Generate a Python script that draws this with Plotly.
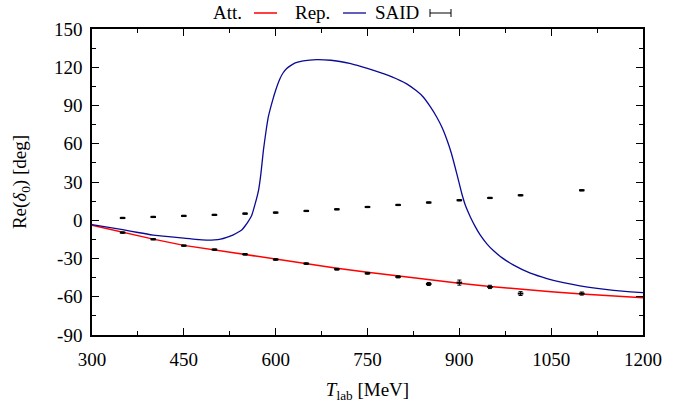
import plotly.graph_objects as go

# ---- data ----
said_up_x = [350, 400, 450, 500, 550, 600, 650, 700, 750, 800, 850, 900, 950, 1000, 1100]
said_up_y = [1.8, 2.6, 3.4, 4.2, 5.2, 6.0, 7.3, 8.6, 10.4, 12.0, 13.9, 15.7, 17.5, 19.6, 23.5]
said_up_err = [0.5] * 15

said_lo_x = [350, 400, 450, 500, 550, 600, 650, 700, 750, 800, 850, 900, 950, 1000, 1100]
said_lo_y = [-9.7, -14.9, -19.9, -23.0, -26.7, -30.8, -34.0, -38.4, -41.6, -44.4, -50.0, -48.9, -52.3, -57.5, -57.5]
said_lo_err = [0.5, 0.5, 0.5, 0.5, 0.6, 0.6, 0.6, 0.7, 0.7, 0.8, 1.2, 2.0, 1.3, 1.5, 1.2]

att_x = [300, 350, 400, 450, 500, 550, 600, 650, 700, 750, 800, 850, 900, 950, 1000, 1050, 1100, 1150, 1200]
att_y = [-4.0, -9.5, -14.8, -19.7, -23.3, -27.0, -30.7, -34.2, -37.6, -40.8, -43.8, -46.7, -49.4, -51.9, -54.1, -56.1, -57.9, -59.5, -60.8]

rep_x = [300, 325, 350, 375, 400, 425, 450, 475, 490, 500, 510, 520, 530, 540, 545, 550, 555, 561, 566,
         572, 576, 580, 584, 588, 595, 600, 607, 612, 618, 625, 632, 645, 667, 690, 705, 721, 740, 760,
         790, 814, 830, 841, 852, 863, 872, 880, 887, 893, 899, 904, 910, 918, 926, 934, 945, 956,
         970, 988, 1016, 1043, 1070, 1097, 1125, 1152, 1180, 1200]
rep_y = [-3.4, -5.4, -7.3, -9.6, -11.6, -12.9, -14.0, -15.2, -15.6, -15.4, -14.8, -13.4, -11.6, -9.0, -7.5,
         -4.5, -1.0, 4.0, 12.0, 23.5, 37.0, 55.0, 69.0, 81.0, 94.0, 102.0, 111.0, 115.5, 119.0, 121.5, 123.4,
         125.0, 126.0, 125.5, 124.5, 123.0, 120.5, 117.6, 112.5, 107.0, 101.5, 96.7, 89.5, 81.0, 72.5, 62.7,
         52.5, 41.8, 30.5, 21.0, 11.5, 2.6, -5.0, -11.5, -18.5, -24.0, -29.5, -35.0, -41.5, -45.7,
         -49.0, -51.5, -53.5, -55.0, -56.2, -56.8]

x_ticks = [300, 450, 600, 750, 900, 1050, 1200]
y_ticks = [-90, -60, -30, 0, 30, 60, 90, 120, 150]

RED = "#ff0000"
BLUE = "#0a0a96"
FONT = "Liberation Serif"

fig = go.Figure()
fig.add_trace(go.Scatter(x=att_x, y=att_y, mode="lines", line=dict(color=RED, width=1.5), showlegend=False))
fig.add_trace(go.Scatter(x=rep_x, y=rep_y, mode="lines", line=dict(color=BLUE, width=1.3, shape="spline", smoothing=0.5), showlegend=False))
for xs, ys, es in [(said_up_x, said_up_y, said_up_err), (said_lo_x, said_lo_y, said_lo_err)]:
    fig.add_trace(go.Scatter(x=xs, y=ys, mode="markers",
                             marker=dict(color="black", size=4, symbol="line-ew", line=dict(color="black", width=2)),
                             error_y=dict(type="data", array=es, color="black", thickness=1, width=2),
                             showlegend=False))

# ---- gnuplot-style key (text then sample) ----
def px(xp):
    return (xp - 92) / 551.0

ly = (335 - 13) / 306.0
for label, xr in [("Att.", 244), ("Rep.", 332), ("SAID", 421)]:
    fig.add_annotation(x=px(xr), y=ly, xref="paper", yref="paper", text=label, showarrow=False,
                       xanchor="right", yanchor="middle", font=dict(family=FONT, size=19, color="black"))
fig.add_shape(type="line", xref="paper", yref="paper", x0=px(254), x1=px(277), y0=ly, y1=ly,
              line=dict(color=RED, width=1.5))
fig.add_shape(type="line", xref="paper", yref="paper", x0=px(343), x1=px(366), y0=ly, y1=ly,
              line=dict(color=BLUE, width=1.3))
fig.add_shape(type="line", xref="paper", yref="paper", x0=px(430), x1=px(451), y0=ly, y1=ly,
              line=dict(color="black", width=1))
for xe in (430, 451):
    fig.add_shape(type="line", xref="paper", yref="paper", x0=px(xe), x1=px(xe), y0=ly - 4 / 306, y1=ly + 4 / 306,
                  line=dict(color="black", width=1))

axis_common = dict(showgrid=False, zeroline=False, showline=True, linecolor="black", linewidth=1.5,
                   mirror="ticks", ticks="inside", ticklen=7, tickwidth=1.2, tickcolor="black",
                   automargin=False,
                   tickfont=dict(family=FONT, size=19, color="black"))
fig.update_xaxes(range=[300, 1200], tickvals=x_ticks, ticktext=[str(v) for v in x_ticks],
                 ticklabelstandoff=6,
                 minor=dict(ticks="inside", ticklen=4, dtick=75, tick0=300, tickcolor="black"),
                 title=dict(text="<i>T</i><sub>lab</sub> [MeV]", font=dict(family=FONT, size=19, color="black"), standoff=14),
                 **axis_common)
fig.update_yaxes(range=[-90, 150], tickvals=y_ticks, ticktext=[str(v) for v in y_ticks],
                 ticklabelstandoff=4,
                 minor=dict(ticks="inside", ticklen=4, dtick=15, tick0=0, tickcolor="black"),
                 title=dict(text="Re(<i>δ</i><sub>0</sub>) [deg]", font=dict(family=FONT, size=19, color="black"), standoff=22),
                 **axis_common)

fig.update_layout(width=694, height=406, margin=dict(l=92, r=51, t=29, b=71),
                  plot_bgcolor="white", paper_bgcolor="white", showlegend=False)

fig.write_html("out.html")
